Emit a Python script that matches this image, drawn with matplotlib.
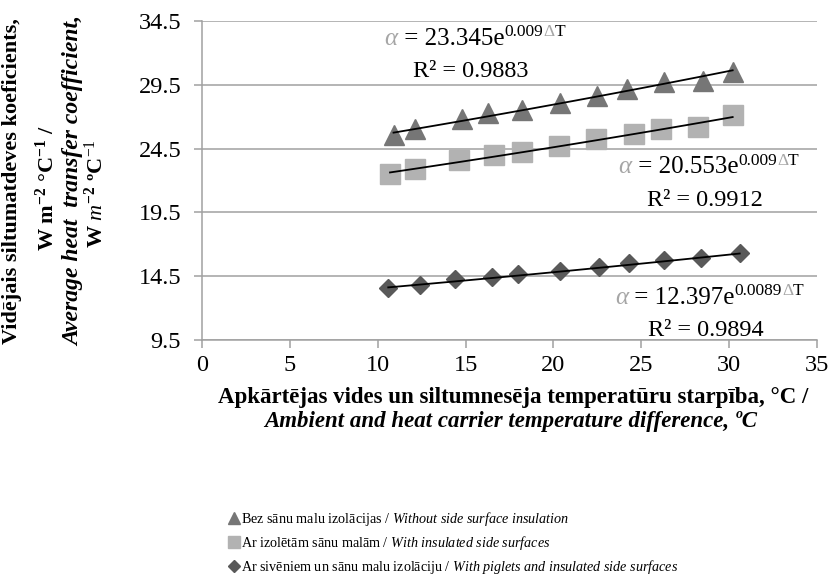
import numpy as np
import matplotlib
matplotlib.use("Agg")
import matplotlib.pyplot as plt
from matplotlib.lines import Line2D

plt.rcParams["font.family"] = ["Liberation Serif", "DejaVu Serif"]
plt.rcParams["mathtext.fontset"] = "custom"
plt.rcParams["mathtext.rm"] = "Liberation Serif"
plt.rcParams["mathtext.it"] = "Liberation Serif:italic"
plt.rcParams["mathtext.bf"] = "Liberation Serif:bold"

# temperature difference, °C, and heat transfer coefficient, W m-2 °C-1
dt_tri = [10.9, 12.1, 14.8, 16.3, 18.2, 20.4, 22.5, 24.2, 26.3, 28.5, 30.2]
alpha_tri = [25.6, 26.0, 26.85, 27.3, 27.55, 28.1, 28.65, 29.2, 29.7, 29.8, 30.5]
dt_sq = [10.7, 12.1, 14.6, 16.6, 18.2, 20.3, 22.4, 24.6, 26.1, 28.2, 30.2]
alpha_sq = [22.5, 22.9, 23.6, 24.0, 24.25, 24.7, 25.25, 25.65, 26.05, 26.2, 27.15]
dt_dia = [10.6, 12.4, 14.4, 16.5, 18.0, 20.4, 22.6, 24.3, 26.3, 28.4, 30.6]
alpha_dia = [13.6, 13.8, 14.3, 14.45, 14.7, 14.9, 15.25, 15.55, 15.8, 15.95, 16.35]

# exponential trend lines  alpha = a * exp(b * dT)
fit_a = ["23.345", "20.553", "12.397"]
fit_b = ["0.009", "0.009", "0.0089"]
fit_r2 = ["0.9883", "0.9912", "0.9894"]

labels = [
    r"Bez sānu malu izolācijas / $\mathit{Without\ side\ surface\ insulation}$",
    r"Ar izolētām sānu malām / $\mathit{With\ insulated\ side\ surfaces}$",
    r"Ar sivēniem un sānu malu izolāciju / $\mathit{With\ piglets\ and\ insulated\ side\ surfaces}$",
]

series = [(dt_tri, alpha_tri, "^", "#767676", 14.5),
          (dt_sq, alpha_sq, "s", "#b2b2b2", 14),
          (dt_dia, alpha_dia, "D", "#595959", 9.5)]

fig = plt.figure(figsize=(8.35, 5.87), dpi=100)
ax = fig.add_axes([202 / 835, 1 - 340 / 587, 615 / 835, 319 / 587])

grid_c = "#a0a0a0"
handles = []
for (x, y, m, c, ms), a, b in zip(series, fit_a, fit_b):
    ax.plot(x, y, ls="none", marker=m, ms=ms, color=c, mec=c, zorder=3)
    xs = np.linspace(min(x), max(x), 50)
    ax.plot(xs, float(a) * np.exp(float(b) * xs), color="black", lw=1.3, zorder=4)
    handles.append(Line2D([], [], ls="none", marker=m, color=c, mec=c, ms=ms * 0.6))

ax.set_xlim(0, 35)
ax.set_ylim(9.5, 34.5)
ax.set_xticks(np.arange(0, 36, 5))
ax.set_yticks([9.5, 14.5, 19.5, 24.5, 29.5, 34.5])
ax.set_yticklabels(["9.5", "14.5", "19.5", "24.5", "29.5", "34.5"])
ax.yaxis.grid(True, color=grid_c, lw=1.1)
ax.set_axisbelow(True)
for s in ["top", "right"]:
    ax.spines[s].set_visible(False)
for s in ["left", "bottom"]:
    ax.spines[s].set_color(grid_c)
    ax.spines[s].set_linewidth(1.1)
ax.tick_params(axis="both", colors=grid_c, labelcolor="black", labelsize=17.5,
               length=6, width=1.1)
ax.tick_params(axis="x", pad=5)
ax.tick_params(axis="y", pad=9)


def equation(x, y, a, b):
    fs, fss = 18, 12.5
    t = ax.text(x, y, "α", color="#a6a6a6", fontsize=fs, fontstyle="italic",
                va="baseline", ha="left", zorder=5)
    t = ax.annotate(f" = {a}e", xy=(1, 0), xycoords=t, va="bottom", ha="left",
                    fontsize=fs, zorder=5)
    t = ax.annotate(b, xy=(1, 0.45), xycoords=t, va="bottom", ha="left",
                    fontsize=fss, zorder=5)
    t = ax.annotate("Δ", xy=(1, 0), xycoords=t, va="bottom", ha="left",
                    fontsize=fss, color="#a6a6a6", zorder=5)
    ax.annotate("T", xy=(1, 0), xycoords=t, va="bottom", ha="left",
                fontsize=fss, zorder=5)


eq_pos = [(10.4, 32.6), (23.7, 22.55), (23.5, 12.3)]
r2_pos = [(12.0, 30.1), (25.3, 20.0), (25.4, 9.8)]
for (ex, ey), (rx, ry), a, b, r2 in zip(eq_pos, r2_pos, fit_a, fit_b, fit_r2):
    equation(ex, ey, a, b)
    ax.text(rx, ry, f"R² = {r2}", fontsize=17.5, va="baseline", ha="left", zorder=5)

# axis titles
fig.text(513 / 835, 1 - 398 / 587,
         "Apkārtējas vides un siltumnesēja temperatūru starpība, °C /",
         ha="center", va="center", fontsize=16.5, fontweight="bold")
fig.text(511 / 835, 1 - 421 / 587,
         "Ambient and heat carrier temperature difference, ºC",
         ha="center", va="center", fontsize=16.5, fontweight="bold", fontstyle="italic")

ycen = 1 - 181 / 587
fig.text(12 / 835, ycen, "Vidējais siltumatdeves koeficients,", rotation=90,
         ha="center", va="center", fontsize=16, fontweight="bold")
fig.text(47 / 835, 1 - 188 / 587, r"W m$^{\mathbf{-2}}$ °C$^{\mathbf{-1}}$ /", rotation=90,
         ha="center", va="center", fontsize=16, fontweight="bold")
fig.text(74 / 835, ycen, "Average heat  transfer coefficient,", rotation=90,
         ha="center", va="center", fontsize=17, fontweight="bold", fontstyle="italic")
fig.text(96 / 835, 1 - 194 / 587, r"W $\mathit{m}^{\mathbf{-2}}$ ºC$^{\mathit{-1}}$", rotation=90,
         ha="center", va="center", fontsize=16, fontweight="bold")

fig.legend(handles, labels, loc="upper left", bbox_to_anchor=(228 / 835, 1 - 510 / 587),
           frameon=False, fontsize=10.2, handlelength=0.8, handletextpad=0.15,
           labelspacing=0.42, borderpad=0, borderaxespad=0)

fig.savefig("out.png", dpi=100)
